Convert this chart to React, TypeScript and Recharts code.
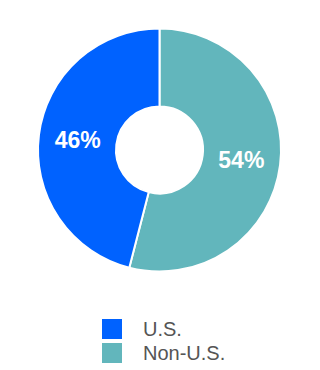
import { PieChart, Pie, Cell, Legend } from "recharts";

// slices go clockwise from 12 o'clock, Non-U.S. first
const regions = ["Non-U.S.", "U.S."];
const shares = [54, 46];
const sliceColors = ["#62B6BC", "#0062FF"];

// legend lists U.S. first
const legendNames = ["U.S.", "Non-U.S."];
const legendColors = ["#0062FF", "#62B6BC"];

const pieData = regions.map((name, i) => ({ name, value: shares[i] }));

const RADIAN = Math.PI / 180;

const renderLabel = (props: any) => {
  const { cx, cy, midAngle, innerRadius, outerRadius, value } = props;
  const r = (innerRadius + outerRadius) / 2;
  const x = cx + r * Math.cos(-midAngle * RADIAN);
  const y = cy + r * Math.sin(-midAngle * RADIAN);
  return (
    <text
      x={x}
      y={y}
      fill="#ffffff"
      textAnchor="middle"
      dominantBaseline="central"
      fontSize={23}
      fontWeight="bold"
      fontFamily="'Liberation Sans', Arial, sans-serif"
    >
      {`${value}%`}
    </text>
  );
};

const renderLegend = () => (
  <div style={{ paddingLeft: 102 }}>
    {legendNames.map((name, i) => (
      <div
        key={name}
        style={{ display: "flex", alignItems: "center", height: 24 }}
      >
        <div
          style={{
            width: 20,
            height: 20,
            background: legendColors[i],
            marginRight: 21,
          }}
        />
        <span
          style={{
            fontSize: 20,
            color: "#555555",
            fontFamily: "'Liberation Sans', Arial, sans-serif",
          }}
        >
          {name}
        </span>
      </div>
    ))}
  </div>
);

export default function App() {
  return (
    <div
      style={{
        position: "absolute",
        left: 0,
        top: 0,
        width: 320,
        height: 370,
        background: "#ffffff",
      }}
    >
      <PieChart
        width={320}
        height={370}
        margin={{ top: 0, right: 0, bottom: 0, left: 0 }}
      >
        <Pie
          data={pieData}
          dataKey="value"
          nameKey="name"
          cx={159.5}
          cy={150}
          innerRadius={43.5}
          outerRadius={121.5}
          startAngle={90}
          endAngle={-270}
          stroke="#ffffff"
          strokeWidth={2}
          label={renderLabel}
          labelLine={false}
          isAnimationActive={false}
        >
          {pieData.map((d, i) => (
            <Cell key={d.name} fill={sliceColors[i]} />
          ))}
        </Pie>
        <Legend
          content={renderLegend}
          wrapperStyle={{ left: 0, top: 317, width: 320 }}
        />
      </PieChart>
    </div>
  );
}
